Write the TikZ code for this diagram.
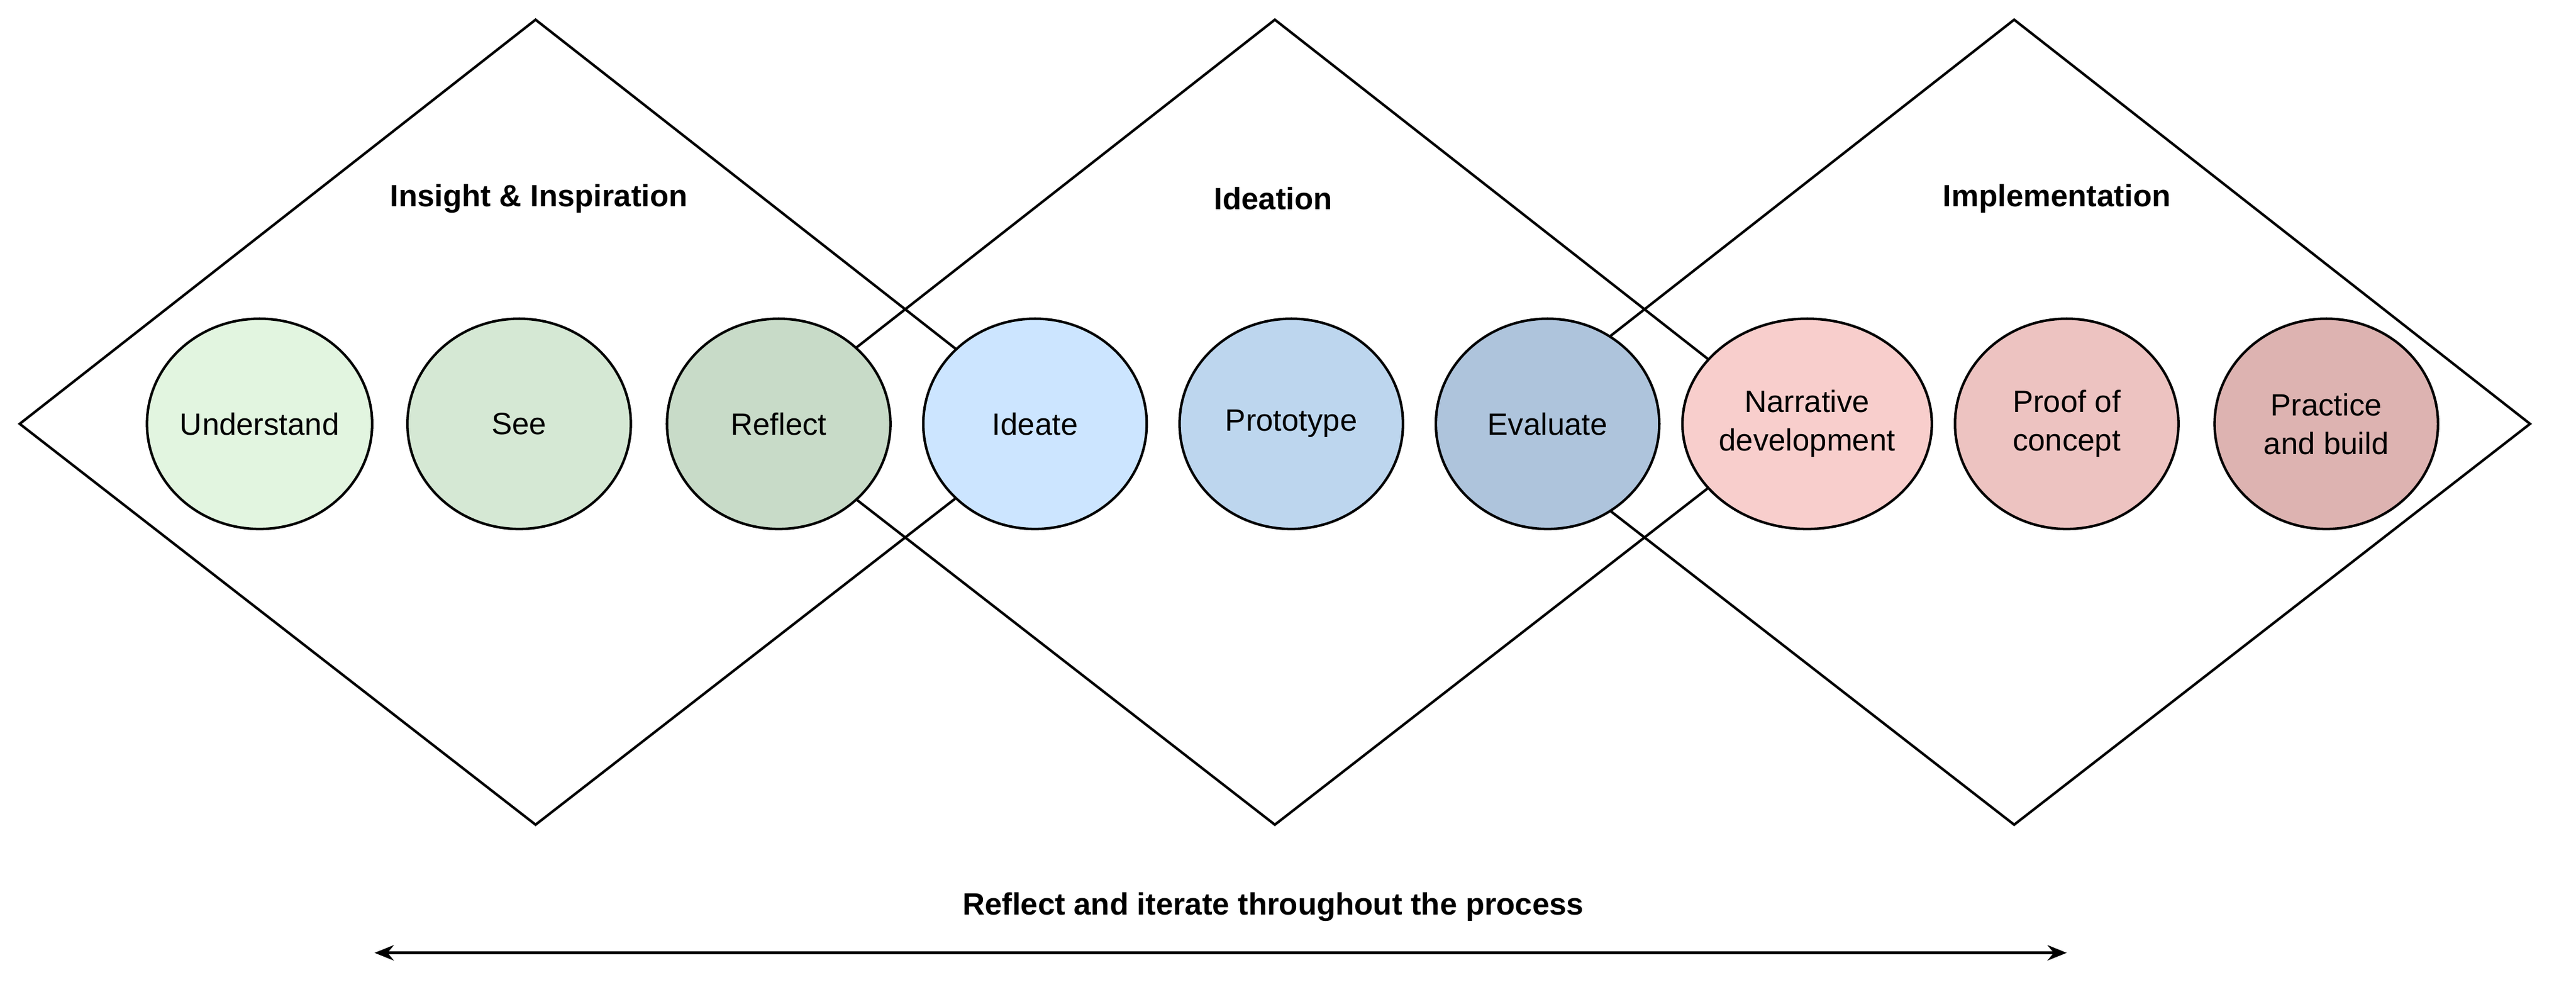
\documentclass[tikz,border=0pt]{standalone}
\usepackage{fontspec}
\setmainfont{Liberation Sans}
\usetikzlibrary{shapes.geometric,arrows.meta}
\begin{document}
\begin{tikzpicture}[x=0.03cm,y=-0.03cm,
  dia/.style={draw,line width=1.3pt},
  st/.style={draw,line width=1.3pt,ellipse,minimum width=136*0.03cm,minimum height=128*0.03cm,inner sep=0pt,align=center,font=\fontsize{16}{20}\selectfont},
  ttl/.style={font=\fontsize{16}{20}\selectfont\bfseries}]
\useasboundingbox (0,0) rectangle (1568,600.5);
\coordinate (a1) at (12,258); \coordinate (a2) at (326,12); \coordinate (a3) at (640,258); \coordinate (a4) at (326,502);
\coordinate (b1) at (462,258); \coordinate (b2) at (776,12); \coordinate (b3) at (1090,258); \coordinate (b4) at (776,502);
\coordinate (c1) at (912,258); \coordinate (c2) at (1226,12); \coordinate (c3) at (1540,258); \coordinate (c4) at (1226,502);
\draw[dia] (a1)--(a2)--(a3)--(a4)--cycle;
\draw[dia] (b1)--(b2)--(b3)--(b4)--cycle;
\draw[dia] (c1)--(c2)--(c3)--(c4)--cycle;
\node[st,fill={rgb,255:red,226;green,245;blue,224}] (n1) at (158,258) {Understand};
\node[st,fill={rgb,255:red,213;green,232;blue,212}] (n2) at (316,258) {See};
\node[st,fill={rgb,255:red,200;green,219;blue,200}] (n3) at (474,258) {Reflect};
\node[st,fill={rgb,255:red,204;green,229;blue,255}] (n4) at (630,258) {Ideate};
\node[st,fill={rgb,255:red,189;green,214;blue,238}] (n5) at (786,258) {Prototype};
\node[st,fill={rgb,255:red,174;green,196;blue,220}] (n6) at (942,258) {Evaluate};
\node[st,fill={rgb,255:red,248;green,206;blue,204}] (n7) at (1100,258) {Narrative\\development};
\node[st,fill={rgb,255:red,237;green,195;blue,193}] (n8) at (1258,258) {Proof of\\concept};
\node[st,fill={rgb,255:red,221;green,179;blue,177}] (n9) at (1416,258) {Practice\\and build};
\node[ttl] (t1) at (328,121) {Insight \& Inspiration};
\node[ttl] (t2) at (775,121) {Ideation};
\node[ttl] (t3) at (1252,121) {Implementation};
\node[ttl] (t4) at (775,552) {Reflect and iterate throughout the process};
\coordinate (l) at (228,580); \coordinate (r) at (1258,580);
\draw[line width=1.3pt,{Stealth[length=10pt,width=8pt]}-{Stealth[length=10pt,width=8pt]}] (l)--(r);
\end{tikzpicture}
\end{document}
